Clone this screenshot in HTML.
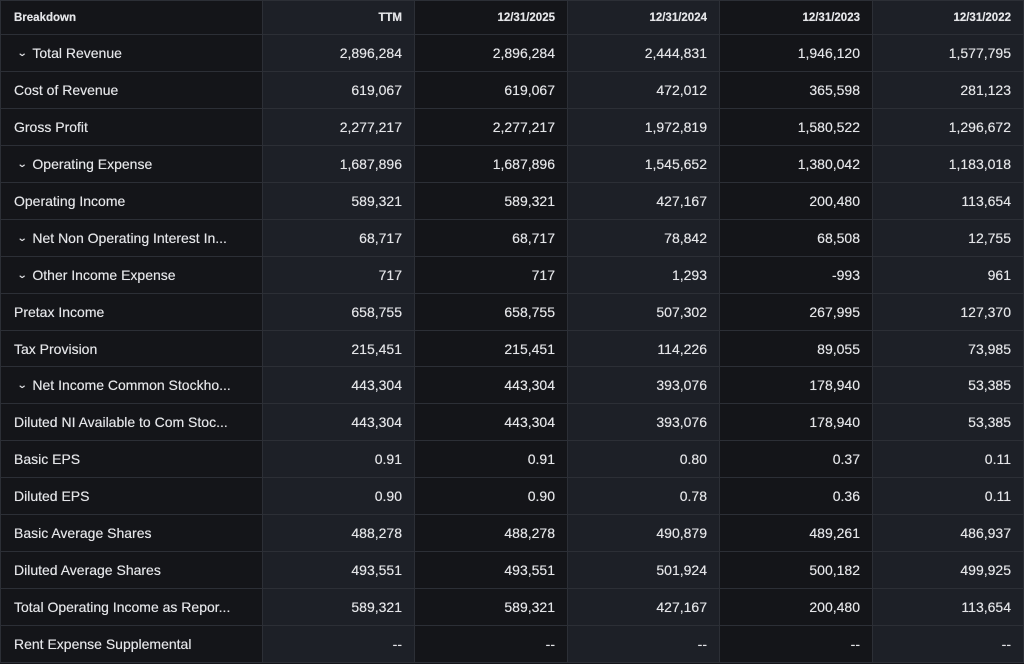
<!DOCTYPE html>
<html><head><style>
html,body{margin:0;padding:0;background:#141519;width:1024px;height:664px;overflow:hidden}
.c{position:absolute;box-sizing:border-box;font-family:"Liberation Sans",sans-serif;font-size:14px;color:#e4e5e8;display:flex;align-items:center;border-right:1px solid #2c2f36;border-bottom:1px solid #2c2f36;white-space:nowrap;overflow:hidden;text-shadow:0 0 0.4px #e4e5e8}
.d{background:#141519}.l{background:#1d2027}
.n{justify-content:flex-end;padding-right:12px}
.t{padding-left:13px;border-left:1px solid #2c2f36}
.h{font-size:11.5px;font-weight:bold;border-top:1px solid #2c2f36}
.ch{font-size:10px;margin-right:6px;margin-left:4px;display:inline-block;transform:scaleX(1.3)}
</style></head><body>
<div id="g"></div>
<script>
const cols=[0,263,415,568,720,873,1024];
const hdr=["Breakdown","TTM","12/31/2025","12/31/2024","12/31/2023","12/31/2022"];
const rows=[
["^Total Revenue","2,896,284","2,896,284","2,444,831","1,946,120","1,577,795"],
["Cost of Revenue","619,067","619,067","472,012","365,598","281,123"],
["Gross Profit","2,277,217","2,277,217","1,972,819","1,580,522","1,296,672"],
["^Operating Expense","1,687,896","1,687,896","1,545,652","1,380,042","1,183,018"],
["Operating Income","589,321","589,321","427,167","200,480","113,654"],
["^Net Non Operating Interest In...","68,717","68,717","78,842","68,508","12,755"],
["^Other Income Expense","717","717","1,293","-993","961"],
["Pretax Income","658,755","658,755","507,302","267,995","127,370"],
["Tax Provision","215,451","215,451","114,226","89,055","73,985"],
["^Net Income Common Stockho...","443,304","443,304","393,076","178,940","53,385"],
["Diluted NI Available to Com Stoc...","443,304","443,304","393,076","178,940","53,385"],
["Basic EPS","0.91","0.91","0.80","0.37","0.11"],
["Diluted EPS","0.90","0.90","0.78","0.36","0.11"],
["Basic Average Shares","488,278","488,278","490,879","489,261","486,937"],
["Diluted Average Shares","493,551","493,551","501,924","500,182","499,925"],
["Total Operating Income as Repor...","589,321","589,321","427,167","200,480","113,654"],
["Rent Expense Supplemental","--","--","--","--","--"]];
let h='';
function cell(x0,x1,y0,y1,txt,ci,isH){
 let cls='c '+(ci%2?'l':'d')+(ci?' n':' t')+(isH?' h':'');
 let s=txt;
 if(txt[0]=='^') s='<span class="ch">&#8964;</span>'+txt.slice(1);
 h+=`<div class="${cls}" style="left:${x0}px;top:${y0}px;width:${x1-x0}px;height:${y1-y0}px">${s}</div>`;
}
hdr.forEach((t,i)=>cell(cols[i],cols[i+1],0,35,t,i,true));
rows.forEach((r,ri)=>{
 const y0=Math.round(35+ri*36.94),y1=Math.round(35+(ri+1)*36.94);
 r.forEach((t,i)=>cell(cols[i],cols[i+1],y0,y1,t,i,false));
});
document.getElementById('g').innerHTML=h;
</script>
</body></html>
